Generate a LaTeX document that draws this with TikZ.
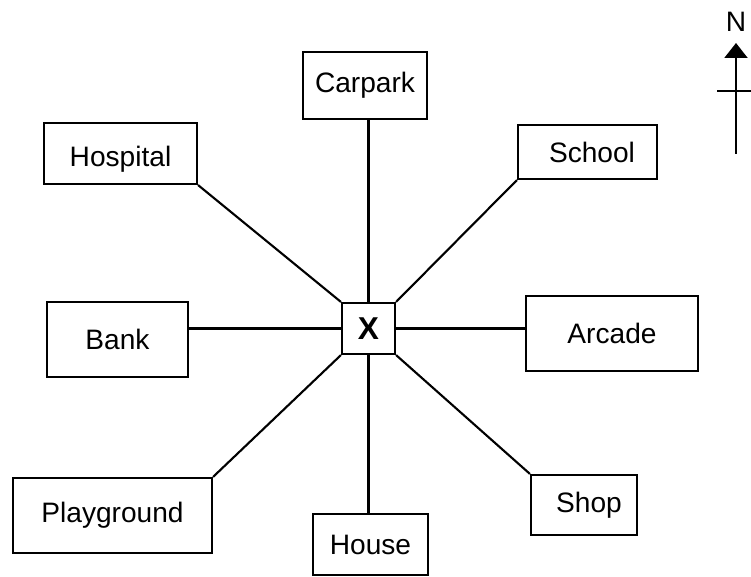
\documentclass[tikz,border=0pt]{standalone}
\usepackage{fontspec}
\setmainfont{Liberation Sans}
\usetikzlibrary{arrows.meta}

\tikzset{place/.style={draw,line width=1.2pt,inner sep=0pt,font=\fontsize{16}{18}\selectfont}}

\begin{document}
\begin{tikzpicture}[x=0.02cm,y=-0.02cm,line width=1.2pt]
\useasboundingbox (0,0) rectangle (751,577);
% centre
\node[place,minimum width=1.06cm,minimum height=1.02cm,font=\fontsize{18}{18}\selectfont\bfseries] (x) at (368.5,328.5) {X};
% places round it
\node[place,minimum width=2.48cm,minimum height=1.34cm] (carpark) at (365,85.5) {Carpark};
\node[place,minimum width=3.06cm,minimum height=1.22cm,text height=0.62cm] (hospital) at (120.5,153.5) {Hospital};
\node[place,minimum width=2.78cm,minimum height=1.08cm] (school) at (587.5,152) {\hspace{0.18cm}School};
\node[place,minimum width=2.82cm,minimum height=1.5cm] (bank) at (117.5,339.5) {Bank};
\node[place,minimum width=3.44cm,minimum height=1.5cm] (arcade) at (612,333.5) {Arcade};
\node[place,minimum width=3.98cm,minimum height=1.5cm] (playground) at (112.5,515.5) {Playground};
\node[place,minimum width=2.3cm,minimum height=1.22cm] (house) at (370.5,544.5) {House};
\node[place,minimum width=2.12cm,minimum height=1.2cm] (shop) at (584,505) {\hspace{0.2cm}Shop};
% roads
\draw (x.north) -- (x.north |- carpark.south);
\draw (x.south) -- (x.south |- house.north);
\draw (x.west) -- (x.west -| bank.east);
\draw (x.east) -- (x.east -| arcade.west);
\draw (x.north west) -- (hospital.south east);
\draw (x.north east) -- (school.south west);
\draw (x.south west) -- (playground.north east);
\draw (x.south east) -- (shop.north west);
% north sign
\node[font=\fontsize{16}{18}\selectfont] (north) at (736,22) {N};
\coordinate (ntail) at (736,154);
\coordinate (ntip) at (736,43);
\coordinate (barl) at (717,91);
\coordinate (barr) at (751,91);
\draw[-{Triangle[width=0.46cm,length=0.3cm]}] (ntail) -- (ntip);
\draw (barl) -- (barr);
\end{tikzpicture}
\end{document}
